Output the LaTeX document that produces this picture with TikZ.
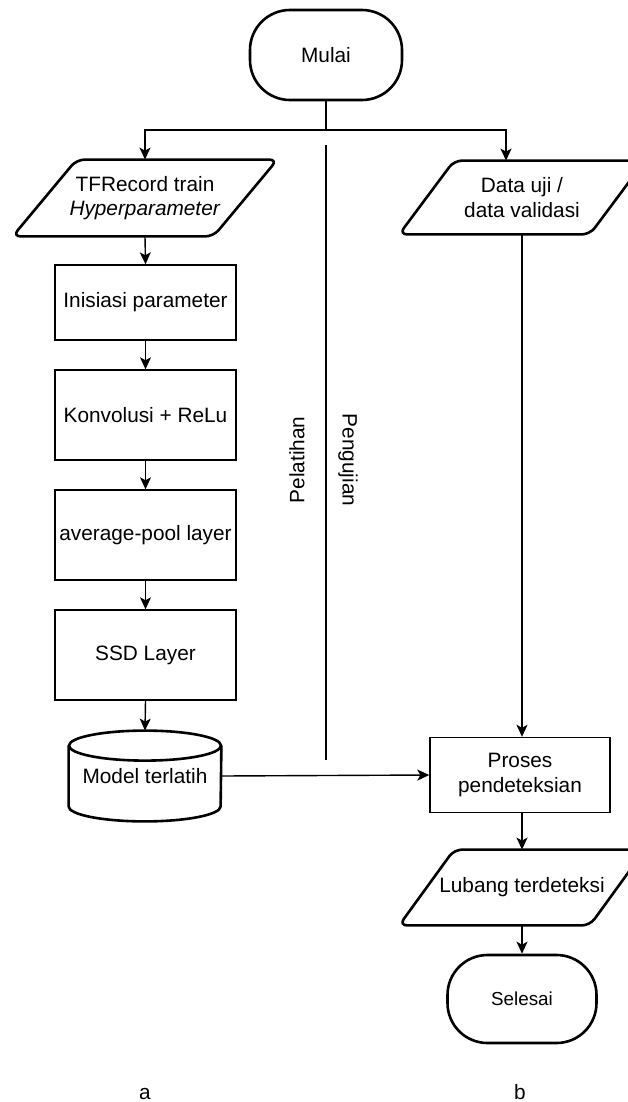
\documentclass[tikz,border=0pt]{standalone}
\usepackage{fontspec}
\setmainfont{Liberation Sans}
\usetikzlibrary{arrows.meta}

\tikzset{
  thin line/.style={line width=0.7pt},
  thick line/.style={line width=1.3pt},
  terminal/.style={draw, thick line, rounded corners=20pt, inner sep=0pt, align=center},
  procbox/.style={draw, thin line, inner sep=0pt, align=center,
                  minimum width=90.5pt},
  iotext/.style={inner sep=0pt, align=center},
  iobox/.style={thick line, rounded corners=4pt},
  arr/.style={thin line, -{Stealth[length=6pt,width=5.5pt,inset=1.5pt]}},
  conn/.style={thin line},
  lbl/.style={inner sep=0pt}
}

\begin{document}
\begin{tikzpicture}[x=0.5pt, y=-0.5pt,
  every node/.append style={font=\fontsize{10.4pt}{12.2pt}\selectfont}]
  \useasboundingbox (0,0) rectangle (627,1102);

  % start
  \node[terminal, minimum width=76pt, minimum height=45pt] (mulai) at (326,55) {Mulai};
  \coordinate (split) at (326,130);

  % training branch (left column)
  \node[iotext, minimum width=100pt, minimum height=38pt] (tf) at (145,198)
       {TFRecord train\\\textit{Hyperparameter}};
  \draw[iobox] ([xshift=-16pt]tf.south west) -- ([xshift=-16pt]tf.south east)
               -- ([xshift=16pt]tf.north east) -- ([xshift=16pt]tf.north west) -- cycle;

  \node[procbox, minimum height=37.5pt] (init) at (145.5,302.5) {Inisiasi parameter};
  \node[procbox, minimum height=45pt] (konv) at (145.5,415) {Konvolusi + ReLu};
  \node[procbox, minimum height=45pt] (pool) at (145.5,535) {average-pool layer};
  \node[procbox, minimum height=45pt] (ssd) at (145.5,655) {SSD Layer};

  % trained model store (cylinder)
  \node[lbl, minimum width=76pt, minimum height=45pt] (model) at (145,776) {Model terlatih};
  \draw[thick line] ([yshift=-7.5pt]model.north) ellipse [x radius=38pt, y radius=7.5pt];
  \draw[thick line] ([yshift=-7.5pt]model.north west) -- ([yshift=7.5pt]model.south west)
        arc[start angle=180, end angle=360, x radius=38pt, y radius=7.5pt]
        -- ([yshift=-7.5pt]model.north east);

  % testing branch (right column)
  \node[iotext, minimum width=95pt, minimum height=36.5pt] (du) at (522,197.5)
       {Data uji /\\data validasi};
  \draw[iobox] ([xshift=-13.75pt]du.south west) -- ([xshift=-13.75pt]du.south east)
               -- ([xshift=13.75pt]du.north east) -- ([xshift=13.75pt]du.north west) -- cycle;

  \node[procbox, minimum width=90pt, minimum height=37.5pt] (proses) at (520,775)
       {Proses\\pendeteksian};

  \node[iotext, minimum width=95pt, minimum height=37.5pt] (lubang) at (522,887.5)
       {Lubang terdeteksi};
  \draw[iobox] ([xshift=-13.75pt]lubang.south west) -- ([xshift=-13.75pt]lubang.south east)
               -- ([xshift=13.75pt]lubang.north east) -- ([xshift=13.75pt]lubang.north west) -- cycle;

  \node[terminal, minimum width=74.5pt, minimum height=44pt,
        font=\fontsize{9.4pt}{11pt}\selectfont] (selesai) at (522,999) {Selesai};

  % divider between the two phases
  \coordinate (divtop) at (326,145);
  \coordinate (divbot) at (326,760);
  \draw[conn] (divtop) -- (divbot);
  \node[lbl, rotate=90] (pelatihan) at (297,460) {Pelatihan};
  \node[lbl, rotate=-90] (pengujian) at (348,460) {Pengujian};

  % column captions
  \node[lbl, anchor=base] (capa) at (145,1099) {a};
  \node[lbl, anchor=base] (capb) at (520,1099) {b};

  % connectors
  \draw[conn] (mulai.south) -- (split);
  \draw[arr] (split) -| (tf.north);
  \draw[arr] (split) -| ([xshift=-8pt]du.north);
  \draw[arr] (tf.south) -- (init.north);
  \draw[arr] (init) -- (konv);
  \draw[arr] (konv) -- (pool);
  \draw[arr] (pool) -- (ssd);
  \draw[arr] (ssd.south) -- (model.north);
  \draw[arr] (model.east) -- (proses.west);
  \draw[arr] (du.south) -- (du.south |- proses.north);
  \draw[arr] (proses.south -| lubang.north) -- (lubang.north);
  \draw[arr] (lubang.south) -- (selesai.north);
\end{tikzpicture}
\end{document}
